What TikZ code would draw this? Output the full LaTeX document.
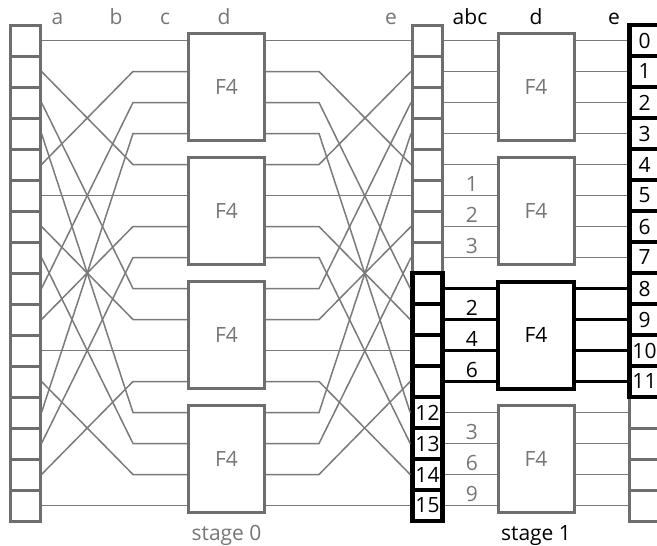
\documentclass[tikz,border=0pt]{standalone}
\usepackage{fontspec}
\setmainfont{Open Sans}
\definecolor{gc}{HTML}{6E6E6E}
\definecolor{wc}{HTML}{7A7A7A}
\definecolor{tc}{HTML}{767676}
\begin{document}
\begin{tikzpicture}[x=1pt,y=-1pt,
  every node/.style={font=\fontsize{21}{25}\selectfont, inner sep=0pt},
  cellg/.style={draw=gc, line width=3pt, fill=white, minimum width=30pt, minimum height=31pt},
  cellb/.style={draw=black, line width=4.5pt, fill=white, minimum width=30pt, minimum height=31pt},
  boxg/.style={draw=gc, line width=3pt, fill=white, text=tc, minimum width=76pt, minimum height=107pt},
  boxb/.style={draw=black, line width=4pt, fill=white, text=black, minimum width=76pt, minimum height=107pt},
  wire/.style={draw=wc, line width=1.5pt},
  wireb/.style={draw=black, line width=2.2pt},
  lblg/.style={text=tc, anchor=base},
  lblb/.style={text=black, anchor=base}]
\useasboundingbox (0,0) rectangle (657,546);
% left register
\foreach \i in {0,...,15} \node[cellg] (L\i) at (25, 40.5+31*\i) {};
% middle register
\foreach \i in {0,...,7} \node[cellg] (M\i) at (427.5, 40.5+31*\i) {};
\foreach \i in {8,...,11} \node[cellb] (M\i) at (427.5, 40.5+31*\i) {};
\foreach \i in {12,...,15} \node[cellb] (M\i) at (427.5, 40.5+31*\i) {\i};
% right register
\foreach \i in {12,...,15} \node[cellg] (R\i) at (644.5, 40.5+31*\i) {};
\foreach \i in {0,...,11} \node[cellb] (R\i) at (644.5, 40.5+31*\i) {\i};
% stage 0 boxes
\foreach \k in {0,...,3} \node[boxg] (A\k) at (226.5, 87+124*\k) {F4};
% stage 1 boxes
\foreach \k in {0,1,3} \node[boxg] (B\k) at (536, 87+124*\k) {F4};
\node[boxb] (B2) at (536, 87+124*2) {F4};
% stage 0 wires
\foreach \i in {0,...,15} {
  \pgfmathtruncatemacro\j{4*mod(\i,4)+div(\i,4)}
  \pgfmathtruncatemacro\k{div(\j,4)}
  \coordinate (p\j) at (133, 40.5+31*\j);
  \draw[wire] (L\i.east) -- (p\j) -- (A\k.west |- p\j);
}
\foreach \i in {0,...,15} {
  \pgfmathtruncatemacro\j{4*mod(\i,4)+div(\i,4)}
  \pgfmathtruncatemacro\k{div(\i,4)}
  \coordinate (q\i) at (319, 40.5+31*\i);
  \draw[wire] (A\k.east |- q\i) -- (q\i) -- (M\j.west);
}
% stage 1 wires
\foreach \i in {0,...,7,12,13,14,15} {
  \pgfmathtruncatemacro\k{div(\i,4)}
  \draw[wire] (M\i.east) -- (B\k.west |- M\i);
  \draw[wire] (B\k.east |- M\i) -- (R\i.west);
}
\foreach \i in {8,...,11} {
  \draw[wireb] (M\i.east) -- (B2.west |- M\i);
  \draw[wireb] (B2.east |- M\i) -- (R\i.west);
}
% wire labels
\foreach \i/\t/\s in {5/1/lblg, 6/2/lblg, 7/3/lblg, 9/2/lblb, 10/4/lblb, 11/6/lblb, 13/3/lblg, 14/6/lblg, 15/9/lblg}
  \node[\s] (w\i) at (472, 40.5+31*\i-4.5) {\t};
% column labels
\node[lblg] (ta) at (57.5,24) {a};
\node[lblg] (tb) at (116,24) {b};
\node[lblg] (tc) at (165,24) {c};
\node[lblg] (td) at (224,24) {d};
\node[lblg] (te) at (391,24) {e};
\node[lblb] (tabc) at (470,24) {abc};
\node[lblb] (td1) at (536,24) {d};
\node[lblb] (te1) at (614,24) {e};
% stage labels
\node[lblg] (s0) at (226.5,540) {stage 0};
\node[lblb] (s1) at (536,540) {stage 1};
\end{tikzpicture}
\end{document}
